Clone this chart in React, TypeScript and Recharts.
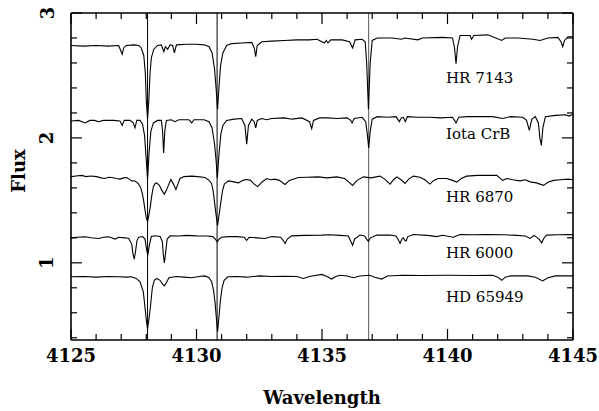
import { LineChart, Line, XAxis, YAxis, ReferenceLine, ReferenceDot } from "recharts";

// wavelength (A) / flux pairs
const hr7143: number[][] = [
  [4125.0, 2.74], [4125.5, 2.735], [4126.0, 2.74], [4126.5, 2.735], [4126.9, 2.74],
  [4127.0, 2.69], [4127.04, 2.67], [4127.1, 2.72], [4127.2, 2.74], [4127.5, 2.745],
  [4127.7, 2.74], [4127.8, 2.72], [4127.9, 2.66], [4127.96, 2.52], [4128.0, 2.3],
  [4128.05, 2.15], [4128.1, 2.3], [4128.15, 2.52], [4128.2, 2.64], [4128.3, 2.71],
  [4128.45, 2.74], [4128.6, 2.745], [4128.7, 2.69], [4128.76, 2.73], [4128.85, 2.71],
  [4128.95, 2.745], [4129.05, 2.74], [4129.12, 2.68], [4129.2, 2.745], [4129.6, 2.75],
  [4130.0, 2.75], [4130.3, 2.745], [4130.5, 2.73], [4130.62, 2.68], [4130.72, 2.55],
  [4130.78, 2.4], [4130.84, 2.23], [4130.9, 2.42], [4130.96, 2.58], [4131.05, 2.68],
  [4131.2, 2.74], [4131.4, 2.755], [4131.8, 2.76], [4132.2, 2.765], [4132.3, 2.72],
  [4132.36, 2.65], [4132.42, 2.74], [4132.6, 2.77], [4133.0, 2.775], [4133.5, 2.78],
  [4134.0, 2.785], [4134.5, 2.785], [4134.8, 2.79], [4135.1, 2.76], [4135.17, 2.78],
  [4135.24, 2.76], [4135.35, 2.785], [4135.8, 2.785], [4136.1, 2.77], [4136.22, 2.72],
  [4136.32, 2.785], [4136.6, 2.79], [4136.72, 2.77], [4136.78, 2.6], [4136.85, 2.23],
  [4136.92, 2.6], [4137.0, 2.78], [4137.2, 2.8], [4137.8, 2.8], [4138.17, 2.79],
  [4138.3, 2.8], [4138.82, 2.785], [4139.0, 2.8], [4139.8, 2.805], [4140.2, 2.8],
  [4140.28, 2.72], [4140.34, 2.595], [4140.4, 2.73], [4140.5, 2.82], [4140.9, 2.82],
  [4140.96, 2.79], [4141.05, 2.82], [4141.6, 2.825], [4141.8, 2.81], [4142.16, 2.78],
  [4142.3, 2.8], [4142.8, 2.8], [4143.4, 2.79], [4143.69, 2.78], [4144.0, 2.8],
  [4144.4, 2.805], [4144.52, 2.77], [4144.59, 2.73], [4144.66, 2.78], [4144.8, 2.81],
  [4145.0, 2.81],
];

const iotaCrB: number[][] = [
  [4125.0, 2.135], [4125.3, 2.14], [4125.56, 2.12], [4125.75, 2.14], [4125.95, 2.14],
  [4126.09, 2.13], [4126.3, 2.14], [4126.7, 2.14], [4126.95, 2.135], [4127.04, 2.1],
  [4127.12, 2.14], [4127.35, 2.14], [4127.48, 2.12], [4127.55, 2.08], [4127.62, 2.14],
  [4127.75, 2.14], [4127.85, 2.11], [4127.93, 2.02], [4127.99, 1.85], [4128.05, 1.67],
  [4128.11, 1.88], [4128.18, 2.05], [4128.28, 2.12], [4128.45, 2.14], [4128.6, 2.14],
  [4128.65, 2.05], [4128.69, 1.88], [4128.74, 2.06], [4128.8, 2.14], [4129.0, 2.145],
  [4129.14, 2.13], [4129.3, 2.145], [4129.7, 2.145], [4129.81, 2.12], [4129.9, 2.145],
  [4130.3, 2.145], [4130.5, 2.13], [4130.62, 2.08], [4130.72, 1.95], [4130.78, 1.82],
  [4130.83, 1.68], [4130.9, 1.88], [4130.97, 2.03], [4131.05, 2.1], [4131.2, 2.14],
  [4131.5, 2.15], [4131.8, 2.155], [4131.93, 2.1], [4132.0, 1.95], [4132.07, 2.1],
  [4132.2, 2.15], [4132.3, 2.13], [4132.36, 2.08], [4132.42, 2.14], [4132.6, 2.155],
  [4132.8, 2.145], [4133.0, 2.155], [4133.5, 2.16], [4133.8, 2.15], [4134.2, 2.16],
  [4134.5, 2.13], [4134.59, 2.075], [4134.66, 2.14], [4134.9, 2.16], [4135.2, 2.16],
  [4135.6, 2.155], [4136.0, 2.16], [4136.14, 2.14], [4136.2, 2.12], [4136.28, 2.155],
  [4136.6, 2.165], [4136.74, 2.13], [4136.8, 2.04], [4136.86, 1.92], [4136.92, 2.05],
  [4137.0, 2.15], [4137.2, 2.17], [4137.6, 2.165], [4137.95, 2.17], [4138.08, 2.13],
  [4138.16, 2.16], [4138.24, 2.165], [4138.32, 2.13], [4138.4, 2.17], [4138.8, 2.165],
  [4139.3, 2.165], [4139.7, 2.16], [4140.2, 2.165], [4140.34, 2.12], [4140.45, 2.165],
  [4140.8, 2.17], [4141.3, 2.17], [4141.8, 2.17], [4142.2, 2.155], [4142.5, 2.17],
  [4143.0, 2.165], [4143.15, 2.14], [4143.26, 2.06], [4143.36, 2.15], [4143.5, 2.17],
  [4143.62, 2.12], [4143.68, 2.0], [4143.74, 1.94], [4143.8, 2.08], [4143.9, 2.17],
  [4144.3, 2.18], [4144.7, 2.185], [4144.85, 2.175], [4145.0, 2.19],
];

const hr6870: number[][] = [
  [4125.0, 1.69], [4125.2, 1.695], [4125.43, 1.7], [4125.6, 1.69], [4125.8, 1.695],
  [4126.02, 1.69], [4126.2, 1.68], [4126.35, 1.675], [4126.5, 1.685], [4126.62, 1.683],
  [4126.8, 1.675], [4126.95, 1.67], [4127.1, 1.68], [4127.22, 1.683], [4127.32, 1.67],
  [4127.42, 1.656], [4127.55, 1.655], [4127.68, 1.635], [4127.78, 1.6], [4127.84, 1.555],
  [4127.9, 1.49], [4127.95, 1.42], [4128.0, 1.36], [4128.05, 1.33], [4128.1, 1.38],
  [4128.16, 1.45], [4128.22, 1.54], [4128.28, 1.61], [4128.35, 1.635], [4128.41, 1.64],
  [4128.52, 1.62], [4128.62, 1.58], [4128.72, 1.55], [4128.8, 1.58], [4128.9, 1.63],
  [4128.98, 1.667], [4129.08, 1.63], [4129.18, 1.587], [4129.26, 1.63], [4129.34, 1.675],
  [4129.5, 1.69], [4129.81, 1.694], [4130.05, 1.69], [4130.34, 1.683], [4130.5, 1.66],
  [4130.6, 1.635], [4130.66, 1.58], [4130.71, 1.5], [4130.77, 1.4], [4130.84, 1.3],
  [4130.91, 1.4], [4130.98, 1.5], [4131.04, 1.58], [4131.11, 1.63], [4131.27, 1.656],
  [4131.45, 1.65], [4131.67, 1.64], [4131.85, 1.66], [4132.0, 1.667], [4132.15, 1.66],
  [4132.3, 1.63], [4132.44, 1.61], [4132.6, 1.645], [4132.8, 1.675], [4132.95, 1.665],
  [4133.13, 1.67], [4133.3, 1.66], [4133.53, 1.627], [4133.7, 1.66], [4134.06, 1.683],
  [4134.4, 1.685], [4134.85, 1.688], [4135.2, 1.68], [4135.59, 1.688], [4135.9, 1.675],
  [4136.05, 1.65], [4136.22, 1.62], [4136.4, 1.66], [4136.65, 1.688], [4136.95, 1.68],
  [4137.31, 1.694], [4137.5, 1.67], [4137.71, 1.63], [4137.85, 1.665], [4137.98, 1.688],
  [4138.15, 1.665], [4138.31, 1.635], [4138.45, 1.67], [4138.64, 1.694], [4138.9, 1.685],
  [4139.1, 1.665], [4139.3, 1.63], [4139.45, 1.66], [4139.63, 1.675], [4139.97, 1.675],
  [4140.2, 1.66], [4140.37, 1.646], [4140.55, 1.675], [4140.76, 1.694], [4141.2, 1.7],
  [4141.6, 1.7], [4141.96, 1.7], [4142.2, 1.66], [4142.36, 1.675], [4142.6, 1.665],
  [4142.89, 1.656], [4143.1, 1.665], [4143.29, 1.648], [4143.55, 1.64], [4143.82, 1.62],
  [4144.0, 1.645], [4144.22, 1.66], [4144.5, 1.665], [4144.81, 1.67], [4145.0, 1.665],
];

const hr6000: number[][] = [
  [4125.0, 1.2], [4125.25, 1.205], [4125.56, 1.208], [4125.8, 1.2], [4126.09, 1.195],
  [4126.3, 1.205], [4126.49, 1.208], [4126.62, 1.2], [4126.75, 1.19], [4126.9, 1.205],
  [4127.15, 1.2], [4127.3, 1.195], [4127.42, 1.15], [4127.47, 1.07], [4127.52, 1.03],
  [4127.57, 1.09], [4127.63, 1.18], [4127.7, 1.205], [4127.85, 1.21], [4127.95, 1.19],
  [4128.0, 1.12], [4128.06, 1.06], [4128.12, 1.14], [4128.2, 1.21], [4128.35, 1.216],
  [4128.55, 1.21], [4128.64, 1.17], [4128.68, 1.06], [4128.72, 1.0], [4128.77, 1.08],
  [4128.83, 1.19], [4128.95, 1.216], [4129.3, 1.215], [4129.6, 1.22], [4130.0, 1.216],
  [4130.4, 1.215], [4130.65, 1.21], [4130.75, 1.19], [4130.82, 1.168], [4130.9, 1.19],
  [4131.0, 1.205], [4131.3, 1.21], [4131.6, 1.21], [4131.9, 1.205], [4132.0, 1.18],
  [4132.1, 1.205], [4132.4, 1.2], [4132.73, 1.195], [4133.0, 1.21], [4133.35, 1.205],
  [4133.45, 1.18], [4133.53, 1.155], [4133.62, 1.19], [4133.79, 1.216], [4134.3, 1.22],
  [4134.99, 1.222], [4135.3, 1.225], [4135.72, 1.22], [4136.05, 1.215], [4136.15, 1.17],
  [4136.22, 1.14], [4136.3, 1.19], [4136.51, 1.222], [4136.7, 1.215], [4136.78, 1.19],
  [4136.85, 1.17], [4136.93, 1.2], [4137.18, 1.222], [4137.71, 1.222], [4137.95, 1.215],
  [4138.05, 1.18], [4138.11, 1.155], [4138.18, 1.19], [4138.24, 1.2], [4138.3, 1.18],
  [4138.35, 1.175], [4138.42, 1.21], [4138.64, 1.227], [4139.2, 1.22], [4139.57, 1.21],
  [4139.8, 1.22], [4140.23, 1.205], [4140.5, 1.227], [4141.0, 1.225], [4141.56, 1.227],
  [4142.2, 1.225], [4142.76, 1.22], [4143.1, 1.215], [4143.29, 1.195], [4143.45, 1.22],
  [4143.65, 1.19], [4143.75, 1.16], [4143.85, 1.2], [4143.95, 1.222], [4144.4, 1.225],
  [4144.81, 1.227], [4145.0, 1.225],
];

const hd65949: number[][] = [
  [4125.0, 0.888], [4125.5, 0.89], [4126.0, 0.885], [4126.5, 0.89], [4126.9, 0.888],
  [4127.2, 0.885], [4127.4, 0.888], [4127.6, 0.875], [4127.75, 0.848], [4127.88, 0.77],
  [4127.95, 0.64], [4128.0, 0.54], [4128.05, 0.47], [4128.1, 0.54], [4128.16, 0.64],
  [4128.24, 0.8], [4128.32, 0.86], [4128.41, 0.875], [4128.55, 0.86], [4128.65, 0.83],
  [4128.72, 0.816], [4128.8, 0.84], [4128.9, 0.88], [4129.2, 0.89], [4129.5, 0.885],
  [4129.8, 0.88], [4130.1, 0.89], [4130.34, 0.895], [4130.5, 0.88], [4130.6, 0.85],
  [4130.68, 0.78], [4130.74, 0.68], [4130.79, 0.56], [4130.84, 0.45], [4130.9, 0.58],
  [4130.96, 0.71], [4131.02, 0.8], [4131.1, 0.86], [4131.25, 0.888], [4131.6, 0.89],
  [4132.0, 0.885], [4132.5, 0.895], [4133.0, 0.89], [4133.5, 0.892], [4134.0, 0.89],
  [4134.26, 0.875], [4134.5, 0.89], [4134.99, 0.907], [4135.2, 0.89], [4135.38, 0.87],
  [4135.55, 0.89], [4135.72, 0.9], [4136.0, 0.895], [4136.25, 0.88], [4136.5, 0.895],
  [4136.9, 0.9], [4137.1, 0.885], [4137.38, 0.87], [4137.6, 0.895], [4138.2, 0.9],
  [4139.0, 0.898], [4140.0, 0.9], [4141.0, 0.898], [4141.8, 0.9], [4142.0, 0.885],
  [4142.16, 0.86], [4142.3, 0.885], [4142.5, 0.895], [4143.2, 0.895], [4143.5, 0.885],
  [4143.79, 0.855], [4144.0, 0.88], [4144.3, 0.895], [4144.81, 0.896], [4145.0, 0.895],
];

const spectra = [hr7143, iotaCrB, hr6870, hr6000, hd65949];
const starNames = ["HR 7143", "Iota CrB", "HR 6870", "HR 6000", "HD 65949"];
const markerLines = [4128.05, 4130.82, 4136.86];

const xTicks = [
  4125, 4126, 4127, 4128, 4129, 4130, 4131, 4132, 4133, 4134, 4135,
  4136, 4137, 4138, 4139, 4140, 4141, 4142, 4143, 4144, 4145,
];
const yTicks = [0.4, 0.6, 0.8, 1, 1.2, 1.4, 1.6, 1.8, 2, 2.2, 2.4, 2.6, 2.8, 3];

const X_MIN = 4125;
const X_MAX = 4145;
const Y_MIN = 0.382;
const Y_MAX = 3;

// where the star names sit (wavelength, flux)
const labelX = 4139.94;
const labelY = [2.486, 2.03, 1.526, 1.078, 0.726];

const FONT = '"DejaVu Serif", serif';
const INK = "#000";

const isMajorX = (v: number) => Math.round(v) % 5 === 0;
const isMajorY = (v: number) => Math.abs(v - Math.round(v)) < 1e-6;

function BottomTick(props: any) {
  const { x, y, payload } = props;
  const v = payload.value;
  const major = isMajorX(v);
  return (
    <g>
      <line x1={x} x2={x} y1={y} y2={y - (major ? 11 : 6)} stroke={INK} strokeWidth={1.2} />
      {major && (
        <text x={x} y={y + 22} textAnchor="middle" fontFamily={FONT} fontWeight="bold" fontSize={18} fill={INK}>
          {v}
        </text>
      )}
    </g>
  );
}

function LeftTick(props: any) {
  const { x, y, payload } = props;
  const v = payload.value;
  const major = isMajorY(v);
  const lx = x - 24;
  return (
    <g>
      <line x1={x} x2={x + (major ? 11 : 6)} y1={y} y2={y} stroke={INK} strokeWidth={1.2} />
      {major && (
        <text
          x={lx}
          y={y}
          transform={`rotate(-90 ${lx} ${y})`}
          textAnchor="middle"
          dominantBaseline="central"
          fontFamily={FONT}
          fontWeight="bold"
          fontSize={18}
          fill={INK}
        >
          {Math.round(v)}
        </text>
      )}
    </g>
  );
}

export default function App() {
  const series = spectra.map((s) => s.map(([w, f]) => ({ w, f })));

  return (
    <div style={{ position: "absolute", left: 0, top: 0, background: "#fff" }}>
      <LineChart width={599} height={411} margin={{ top: 13, right: 26, left: 0, bottom: 0 }}>
        <XAxis
          dataKey="w"
          type="number"
          domain={[X_MIN, X_MAX]}
          ticks={xTicks}
          interval={0}
          allowDataOverflow
          height={71}
          tickSize={0}
          tickMargin={0}
          tickLine={false}
          axisLine={false}
          tick={BottomTick}
          label={{
            value: "Wavelength",
            position: "insideBottom",
            offset: 7,
            fontFamily: FONT,
            fontWeight: "bold",
            fontSize: 18,
            fill: INK,
          }}
        />
        <YAxis
          type="number"
          domain={[Y_MIN, Y_MAX]}
          ticks={yTicks}
          interval={0}
          allowDataOverflow
          width={71}
          tickSize={0}
          tickMargin={0}
          tickLine={false}
          axisLine={false}
          tick={LeftTick}
          label={() => (
            <text
              x={18}
              y={171}
              transform="rotate(-90 18 171)"
              textAnchor="middle"
              dominantBaseline="central"
              fontFamily={FONT}
              fontWeight="bold"
              fontSize={18}
              fill={INK}
            >
              Flux
            </text>
          )}
        />
        {/* mirrored ticks on the top and right edges */}
        {xTicks.map((t) => (
          <ReferenceLine
            key={`tx${t}`}
            segment={[{ x: t, y: Y_MAX }, { x: t, y: Y_MAX - (isMajorX(t) ? 0.088 : 0.048) }]}
            stroke={INK}
            strokeWidth={1.2}
            ifOverflow="visible"
          />
        ))}
        {yTicks.map((t) => (
          <ReferenceLine
            key={`ty${t}`}
            segment={[{ x: X_MAX, y: t }, { x: X_MAX - (isMajorY(t) ? 0.44 : 0.24), y: t }]}
            stroke={INK}
            strokeWidth={1.2}
            ifOverflow="visible"
          />
        ))}
        {markerLines.map((m, i) => (
          <ReferenceLine key={m} x={m} stroke={i === 2 ? "#555" : INK} strokeWidth={1} />
        ))}
        {series.map((d, i) => (
          <Line
            key={starNames[i]}
            data={d}
            dataKey="f"
            type="linear"
            dot={false}
            activeDot={false}
            stroke={INK}
            strokeWidth={1.1}
            isAnimationActive={false}
          />
        ))}
        {/* plot frame */}
        <ReferenceLine x={X_MIN} stroke={INK} strokeWidth={1.6} ifOverflow="visible" />
        <ReferenceLine x={X_MAX} stroke={INK} strokeWidth={1.6} ifOverflow="visible" />
        <ReferenceLine y={Y_MIN} stroke={INK} strokeWidth={1.6} ifOverflow="visible" />
        <ReferenceLine y={Y_MAX} stroke={INK} strokeWidth={1.6} ifOverflow="visible" />
        {starNames.map((name, i) => (
          <ReferenceDot
            key={name}
            x={labelX}
            y={labelY[i]}
            r={0}
            fill="none"
            stroke="none"
            label={{ value: name, position: "right", offset: 0, fontFamily: FONT, fontSize: 15, fill: INK }}
          />
        ))}
      </LineChart>
    </div>
  );
}
